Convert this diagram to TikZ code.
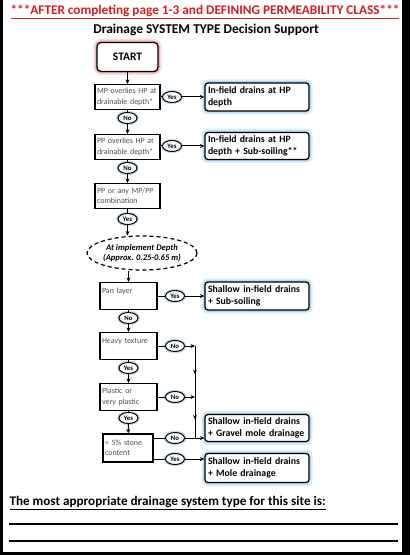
\documentclass[tikz,border=0pt]{standalone}
\usepackage{fontspec}
\setmainfont{Carlito}
\usetikzlibrary{arrows.meta,shapes.geometric,decorations.markings}

\definecolor{titlered}{RGB}{215,30,35}
\definecolor{askgray}{RGB}{80,80,80}
\definecolor{haloblue}{RGB}{110,180,230}
\definecolor{halored}{RGB}{230,110,110}

\tikzset{
  line/.style={line width=1bp},
  flow/.style={line width=1bp, -{Stealth[length=4.5bp,width=4bp]}},
  midarrow/.style={decoration={markings, mark=at position 0.55 with {\arrow{Stealth[length=4.5bp,width=4bp]}}}, postaction={decorate}},
  question/.style={draw, line width=1.1bp, fill=white, text=askgray,
    font=\fontsize{8}{10.5}\selectfont, align=left, text width=#1,
    inner xsep=2bp, inner ysep=1.5bp},
  result/.style={draw, rounded corners=3bp, line width=1.2bp, fill=white,
    preaction={draw=haloblue!25, line width=7bp},
    preaction={draw=haloblue!55, line width=3.5bp},
    font=\bfseries\fontsize{9.8}{12}\selectfont, align=left, text width=98bp,
    minimum height=28bp, inner xsep=3bp, inner ysep=1bp},
  startbox/.style={draw, rounded corners=4bp, line width=1.2bp, fill=white,
    preaction={draw=halored!25, line width=7bp},
    preaction={draw=halored!60, line width=3.5bp},
    font=\bfseries\fontsize{11.5}{13}\selectfont,
    minimum width=61bp, minimum height=29bp},
  answer/.style={ellipse, draw, line width=1bp, fill=white,
    preaction={draw=haloblue!45, line width=3.5bp},
    font=\bfseries\fontsize{6.8}{7}\selectfont,
    minimum width=19bp, minimum height=11bp, inner sep=0pt},
  depth/.style={ellipse, draw, dashed, dash pattern=on 4bp off 3bp, line width=1.2bp,
    font=\bfseries\itshape\fontsize{8.6}{10.5}\selectfont, align=center,
    minimum width=100bp, minimum height=34bp, inner sep=0pt}
}

\begin{document}
\begin{tikzpicture}[x=1bp,y=-1bp]
  % Page frame
  \fill[black] (0,0) rectangle (410,555);
  \fill[white] (3,0) rectangle (402,552);
  \useasboundingbox (0,0) rectangle (410,555);

  % Headings
  \node[font=\bfseries\fontsize{13.3}{15}\selectfont, text=titlered] (title) at (205,12)
    {\underline{***AFTER completing page 1-3 and DEFINING PERMEABILITY CLASS***}};
  \node[font=\bfseries\fontsize{13.5}{15}\selectfont] (subtitle) at (206,30)
    {Drainage SYSTEM TYPE Decision Support};

  % Start
  \node[startbox] (start) at (127.5,57) {START};

  % Questions (left column)
  \node[question=61bp, minimum height=25bp] (mp) at (127.5,97) {MP overlies HP at\\drainable depth*};
  \node[question=61bp, minimum height=25bp] (pp) at (127.5,147) {PP overlies HP at\\drainable depth*};
  \node[question=61bp, minimum height=25bp] (combo) at (127.5,196) {PP or any MP/PP\\combination};
  \node[depth] (implement) at (142,253) {At implement Depth\\(Approx. 0.25-0.65 m)};
  \node[question=53bp, minimum height=27bp] (pan) at (128.5,296) {Pan layer\\\mbox{}};
  \node[question=53bp, minimum height=27bp] (heavy) at (128.5,346) {Heavy texture\\\mbox{}};
  \node[question=53bp, minimum height=27bp] (plastic) at (128.5,397) {Plastic or\\very plastic};
  \node[question=46bp, minimum height=28bp] (stone) at (128,448) {< 5\% stone\\content};

  % Answers
  \node[answer] (yesmp) at (172,97) {Yes};
  \node[answer] (nomp) at (127.5,118) {No};
  \node[answer] (yespp) at (172,146) {Yes};
  \node[answer] (nopp) at (127.5,168) {No};
  \node[answer] (yescombo) at (127.5,219) {Yes};
  \node[answer] (yespan) at (175,296) {Yes};
  \node[answer] (nopan) at (128.5,318) {No};
  \node[answer] (noheavy) at (175,346) {No};
  \node[answer] (yesheavy) at (128.5,368) {Yes};
  \node[answer] (noplastic) at (175,397) {No};
  \node[answer] (yesplastic) at (128.5,418) {Yes};
  \node[answer] (nostone) at (175,438) {No};
  \node[answer] (yesstone) at (175,459) {Yes};

  % Outcomes (right column)
  \node[result] (hpdepth) at (257,97) {In-field drains at HP\\depth};
  \node[result, minimum height=27bp] (hpsub) at (257,146) {In-field drains at HP\\depth + Sub-soiling**};
  \node[result] (shallowsub) at (257,296) {Shallow in-field drains\\+ Sub-soiling};
  \node[result, minimum height=27bp] (gravel) at (257,428) {Shallow in-field drains\\+ Gravel mole drainage};
  \node[result, minimum height=29bp] (mole) at (257,468) {Shallow in-field drains\\+ Mole drainage};

  % Merge points
  \coordinate (jheavy) at (195,346);
  \coordinate (jplastic) at (195,397);
  \coordinate (jstone) at (195,438);

  % Downward flow
  \draw[flow] (start) -- (mp);
  \draw[line] (mp) -- (nomp);
  \draw[flow] (nomp) -- (pp);
  \draw[line] (pp) -- (nopp);
  \draw[flow] (nopp) -- (combo);
  \draw[line] (combo) -- (yescombo);
  \draw[flow] (yescombo) -- (yescombo |- implement.north);
  \draw[flow] (implement.south -| pan.north) -- (pan);
  \draw[line] (pan) -- (nopan);
  \draw[flow] (nopan) -- (heavy);
  \draw[line] (heavy) -- (yesheavy);
  \draw[flow] (yesheavy) -- (plastic);
  \draw[line] (plastic) -- (yesplastic);
  \draw[flow] (yesplastic) -- (stone);

  % Sideways flow
  \draw[line] (mp) -- (yesmp);
  \draw[flow] (yesmp) -- (yesmp -| hpdepth.west);
  \draw[line] (pp.east |- yespp) -- (yespp);
  \draw[flow] (yespp) -- (yespp -| hpsub.west);
  \draw[line] (pan) -- (yespan);
  \draw[flow] (yespan) -- (yespan -| shallowsub.west);
  \draw[line] (heavy) -- (noheavy);
  \draw[flow] (noheavy) -- (jheavy);
  \draw[line] (plastic) -- (noplastic);
  \draw[flow] (noplastic) -- (jplastic);
  \draw[line, midarrow] (jheavy) -- (jplastic);
  \draw[line, midarrow] (jplastic) -- (jstone);
  \draw[line] (stone.east |- nostone) -- (nostone);
  \draw[flow] (nostone) -- (nostone -| gravel.west);
  \draw[line] (stone.east |- yesstone) -- (yesstone);
  \draw[flow] (yesstone) -- (yesstone -| mole.west);

  % Answer lines
  \node[font=\bfseries\fontsize{13.2}{15}\selectfont, anchor=west] (sitetype) at (6,503)
    {\underline{The most appropriate drainage system type for this site is:}};
  \draw[line width=1.2bp] (9,524) -- (398,524);
  \draw[line width=1.2bp] (9,541) -- (398,541);
\end{tikzpicture}
\end{document}
